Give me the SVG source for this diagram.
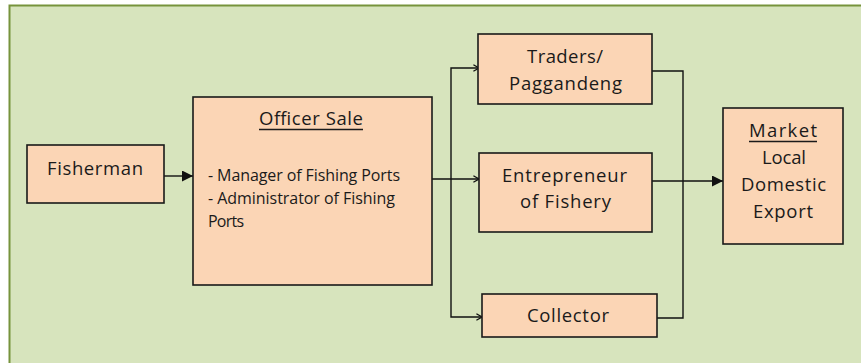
<svg xmlns="http://www.w3.org/2000/svg" width="861" height="363" viewBox="0 0 861 363">
  <style>
    .box { fill: #fbd5b5; stroke: #1a1a1a; stroke-width: 1.6; }
    .wire { fill: none; stroke: #111; stroke-width: 1.4; }
    text { font-family: "Open Sans", "Liberation Sans", Arial, sans-serif; fill: #1a1a1a; }
    .big { font-size: 18.5px; text-anchor: middle; }
    .small { font-size: 16px; }
    .rule { stroke: #1a1a1a; stroke-width: 1.3; }
  </style>
  <defs>
    <marker id="solid" viewBox="0 0 10 10" refX="10" refY="5" markerWidth="11" markerHeight="11" markerUnits="userSpaceOnUse" orient="auto">
      <path d="M0,0 L10,5 L0,10 Z" fill="#111"/>
    </marker>
    <marker id="open" viewBox="0 0 10 10" refX="9" refY="5" markerWidth="8" markerHeight="8" markerUnits="userSpaceOnUse" orient="auto">
      <path d="M2,1 L9,5 L2,9" fill="none" stroke="#111" stroke-width="1.6"/>
    </marker>
  </defs>

  <rect x="0" y="0" width="861" height="363" fill="#ffffff"/>
  <rect x="9.5" y="5.5" width="860" height="370" fill="#d7e4bd" stroke="#77933c" stroke-width="2"/>

  <g id="connectors">
    <line class="wire" x1="164" y1="176" x2="193" y2="176" marker-end="url(#solid)"/>
    <line class="wire" x1="432" y1="179" x2="479" y2="179" marker-end="url(#open)"/>
    <polyline class="wire" points="451,179 451,68 479,68" marker-end="url(#open)"/>
    <polyline class="wire" points="451,179 451,317 482,317" marker-end="url(#open)"/>
    <polyline class="wire" points="652,71 683,71 683,318 657,318"/>
    <line class="wire" x1="652" y1="181" x2="723" y2="181" marker-end="url(#solid)"/>
  </g>

  <g id="fisherman">
    <rect class="box" x="27" y="145" width="137" height="58"/>
    <text class="big" x="95" y="175" textLength="96">Fisherman</text>
  </g>

  <g id="officer-sale">
    <rect class="box" x="193" y="97" width="239" height="188"/>
    <text class="big" x="311" y="125" textLength="104">Officer Sale</text>
    <line class="rule" x1="259" y1="129.5" x2="363" y2="129.5"/>
    <text class="small" x="208" y="181" textLength="192">- Manager of Fishing Ports</text>
    <text class="small" x="208" y="204" textLength="187">- Administrator of Fishing</text>
    <text class="small" x="208" y="227" textLength="36">Ports</text>
  </g>

  <g id="traders">
    <rect class="box" x="478" y="34" width="174" height="70"/>
    <text class="big" x="565" y="63" textLength="76">Traders/</text>
    <text class="big" x="565.5" y="90" textLength="113">Paggandeng</text>
  </g>

  <g id="entrepreneur">
    <rect class="box" x="479" y="153" width="173" height="79"/>
    <text class="big" x="564.5" y="182" textLength="125">Entrepreneur</text>
    <text class="big" x="565.5" y="208" textLength="91">of Fishery</text>
  </g>

  <g id="collector">
    <rect class="box" x="482" y="294" width="175" height="43"/>
    <text class="big" x="568" y="322" textLength="82">Collector</text>
  </g>

  <g id="market">
    <rect class="box" x="723" y="108" width="120" height="136"/>
    <text class="big" x="783" y="137" textLength="68">Market</text>
    <line class="rule" x1="749" y1="141.5" x2="817" y2="141.5"/>
    <text class="big" x="784" y="164" textLength="44">Local</text>
    <text class="big" x="783.5" y="191" textLength="85">Domestic</text>
    <text class="big" x="783" y="218" textLength="60">Export</text>
  </g>
</svg>
